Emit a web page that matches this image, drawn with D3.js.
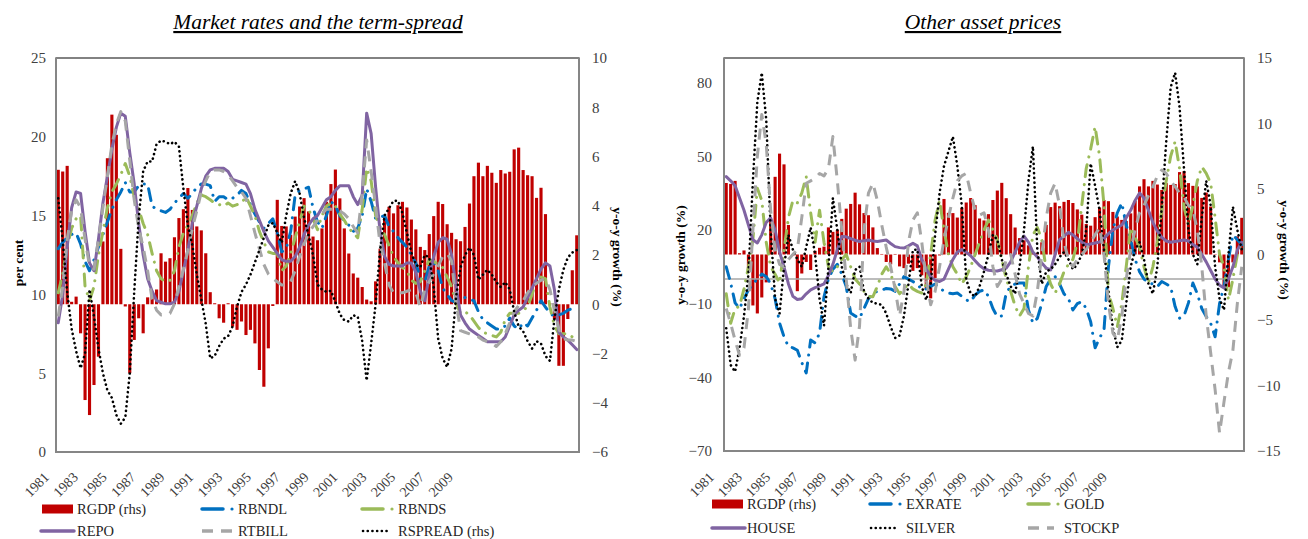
<!DOCTYPE html>
<html><head><meta charset="utf-8">
<script src="https://cdn.jsdelivr.net/npm/d3@7"></script>
<style>
body{margin:0;background:#fff}
svg{display:block}
text{font-family:"Liberation Serif","Times New Roman",serif}
</style>
</head><body>
<svg id="chart" width="1308" height="539"></svg>
<script>
// ---------------- DATA ----------------
const tickYears = ["1981","1983","1985","1987","1989","1991","1993","1995","1997","1999","2001","2003","2005","2007","2009"];

// real GDP y-o-y growth (%) - rhs, quarterly from 1981Q1
const rgdp = [5.46,5.39,5.62,0.1,0.31,-1.18,-3.89,-4.5,-3.28,-2.13,
2.55,5.93,7.7,6.88,2.25,-0.09,-2.8,-1.45,-0.57,-1.18,
0.28,0.51,0.6,2.07,1.73,1.87,2.72,3.5,3.86,4.72,
3.83,3.16,3.0,2.07,0.49,0.04,-0.57,-0.75,0.04,-0.91,
-1.04,-0.7,-1.25,-1.04,-1.59,-2.67,-3.35,-1.79,-0.07,4.24,
3.18,3.16,2.82,3.56,3.97,4.31,3.77,2.75,2.6,3.08,
4.16,4.88,5.47,4.3,3.08,2.06,1.25,1.08,0.7,0.19,
0.12,0.93,2.26,3.62,3.96,3.69,4.02,4.16,3.93,3.44,
3.04,2.33,2.2,2.85,3.58,4.16,4.07,3.25,2.9,2.64,
2.56,3.14,4.09,5.2,5.75,5.2,5.62,5.34,4.93,5.45,
5.31,5.38,6.29,6.36,5.45,5.24,5.2,4.32,4.73,3.66,
0.03,-0.6,-2.5,-2.5,-0.6,1.38,2.8];

// Panel 1: market rates (per cent)
const repo = [8.2,10,13,15.5,16.5,16.4,14,12,11.5,13.5,
15.8,17.5,19.2,20.6,21.5,21.3,19,17,14.5,12.5,
11,10.2,9.6,9.5,9.4,9.4,9.5,10.2,11.5,12.8,
14.5,15.6,16.7,17.5,17.9,18,18,18,17.8,17.3,
17.2,17.1,17,16.4,15.4,14.7,14,13.4,13,12.6,
12.2,12.1,12.1,12.4,13,13.8,14.4,14.8,15,15.5,
16,16.2,16.6,16.9,16.9,16.9,16.2,15.7,16.3,21.5,
20.2,16.8,14,12.4,11.9,11.8,11.8,11.8,12,12,
11.4,10.2,9.6,11.2,12.4,13.3,13.6,13.5,12.5,10.5,
8.7,8.2,7.8,7.6,7.4,7.2,7,7,7,7,
7.3,8,8.7,9,9.2,9.8,10.4,11,11.6,12,
11.8,10.3,7.6,7.3,7.1,6.8,6.5];
const rtbill = [8.6,10.5,13.5,15.3,16,15.5,13.5,11.8,11.6,13.5,
15.5,17.5,19.5,20.8,21.6,21,18.5,16,14.2,13,
11.5,9.7,9,8.7,8.7,8.8,9.4,10.5,11.6,12.8,
14.2,15.3,16.5,17.2,17.8,17.9,17.9,17.8,17.6,17.2,
16.8,16.5,16.1,15,13.9,12.9,11.9,11.3,11,10.8,
10.6,10.6,10.8,11.5,12.4,13.2,13.9,14.3,14.7,15.1,
15.4,15.4,15.4,15.3,15.1,14.8,14.3,13.9,16.4,19.8,
17.8,15.6,13.2,12,10.6,10.1,10.1,10.1,10.2,10.3,
10.1,9.2,10.3,10.8,11.3,11.8,12.4,12.6,12.1,9.5,
7.7,7.6,7.5,7.4,7.3,7.1,7,6.9,6.7,7,
7.5,8.2,8.9,9.3,9.6,10.1,10.5,10.7,10.9,11,
10.3,9,7.8,7.2,7.1,7.1,7];
const rbndl = [12.9,13.3,13.6,13.8,13.9,13.2,12.1,11.5,12.2,13,
13.8,14.6,15.4,16,16.5,17.1,16.5,16.5,16.9,17,
17,15.6,15.4,15.3,15.2,15.4,15.8,16.1,16.4,16.1,
16.4,16.8,17,17,16.9,15.9,16.2,16.2,16,16.1,
16.3,16.6,16.4,15.7,15.1,14.6,14.2,14.5,14.8,13.9,
12.7,12.9,14,16.3,16.6,16.7,16.8,15.5,14.6,14.2,
15,15.9,15.6,15,14.7,14.4,14,14.2,15,16.7,
15.9,14.8,14.9,15,14.3,14,13.6,13.3,13,12.5,
12,11,10.8,11.8,12,11.5,10.4,10,9.6,9.5,
9.6,9.8,9.7,9.6,8.9,8.4,8.2,8,7.8,7.8,
8,8.5,8,7.8,8.2,8,8.5,9,9.6,9.2,
8.8,8.6,8.7,8.8,9,9.1,9.1];
const rbnds = [10.1,11.3,13,14.2,14.8,15,10.5,9.6,10.5,12.5,
14,15.5,16.5,17,17.6,18.3,17.5,16.2,15.4,14.5,
13.8,12.6,11.5,11,10.8,10.9,11.5,13,13.9,14.4,
15,15.8,16.3,16.2,16,15.8,15.7,15.6,15.8,15.6,
15.7,15.8,16.2,15.6,15,14,13.3,12.7,12.6,12.6,
11.5,11.8,12.6,13.6,14.6,15.6,15.4,14.8,14.1,15,
15.6,15.8,15.6,15.1,14.7,14.2,13.9,13.6,15.4,18,
17.2,15,14.3,13.8,13.1,12.4,12,11.7,11.5,10.9,
10.7,10.8,11.5,12.2,12.1,11.9,11.7,11.1,10.5,9.4,
8.8,8.9,8.7,8.3,7.9,7.6,7.5,7.4,7.3,7.6,
8.4,8.8,8.8,8.8,9,9.2,10,10.9,11.1,11,
9.2,8,7.5,7.5,7.5,7.3,7.1];
// term spread - rhs
const rspread = [4.3,2.6,0.5,-1,-1.9,-2.6,-2,0.6,-0.5,-1.8,
-2.8,-3.5,-3.8,-4.5,-4.85,-4.6,-2.8,0.5,3.5,5.4,
5.8,5.8,6.5,6.65,6.6,6.5,6.6,6.4,4.7,3.2,
2.4,1.2,0.2,-0.8,-2.2,-2.1,-1.7,-1.4,-1.3,-0.9,
-0.1,0.5,0.8,1.2,1.7,2.2,2.7,3.2,3.3,2.9,
2.5,3.6,4.5,5,4.5,3.5,2.8,2,0.8,0.6,
0.5,0.55,0.1,-0.4,-0.65,-0.7,-0.45,-0.5,-1.5,-3.1,
-1.6,0,2.2,3.6,3.9,4.2,4.2,3.7,2.9,2.1,
1.6,1.5,2,1.9,0.7,-1.4,-2.2,-2.55,-1.8,0.3,
1.5,2,2.3,2,1,1.2,1.4,1.2,0.9,0.7,
0.9,0.6,-0.3,-0.9,-1.1,-1.5,-1.8,-1.5,-1.6,-2.1,
-2.3,-0.6,0.6,1.4,1.9,2.1,2.2];

// Panel 2: other asset prices (y-o-y growth, %)
const exrate = [5,-1.6,-9.7,-12,-8,-4.4,-2,0,2,1,
-2,-8,-17.9,-23.5,-27.5,-28,-29,-34,-38.2,-24.8,
-26,-22,-7.2,0,4,6,2,-3,-13.8,-15,
-15.9,-12,-8,-5.7,-5,-4.5,-3.8,-4,-5,-2,
1,0,-1,-2,-4.4,-4,-3,-2,-3.5,-5,
-5.7,-6,-5.7,-7,-8.5,-9.2,-6.5,-5,-4.4,-7,
-12,-15.3,-15,-5.7,-3,-2,-1.6,-1.6,-12.6,-17.9,
-16,-10,-3,0,1,-2,-6,-8,-12.6,-10,
-9.2,-12,-17.4,-28,-24,-20.7,5,20,27,31,
22,16,8,3,0,-1.6,-2,-3.1,-1,-2,
-3.1,-11.2,-15.9,-15,-9.7,-1.6,-6,-12,-15.3,-18,
-23.5,-10,-3,8,18,16,14];
const gold = [-6,-18,-12,-11,-4,5,16,37,32,15,
5,2,-1.6,12,25,32,31,35,41.7,27,
15,28,15,5,3,5,8,10,5,0,
-2,-5,-7,-7.2,-3,2,5,2,-3,-6,
-4,-2,-4,-5,-5.7,-2,10,24,32,20,
10,5,2,-2,1,5,10,15,20,24,
20,16,8,0,-5,-11,-15,-12,5,18,
21,16,3.7,-2,-5.7,-2,3,6,8,15,
30,45,53,62,50,30,-5.7,-12,-19.4,-10,
5,21,17,13,5,-1.6,5,15,28,40,
50,56,45,29.5,22,30,40,45.7,43,39,
25,10,5,-8.5,0,10,15];
const house = [41.7,40,38,33,28,22,16,14.7,18,23,
24.9,20,11,5,-2,-7,-8.3,-8,-6,-4.4,
-3.5,-2.8,-2,1.5,6,12,17.3,17.2,16.5,15.8,
15.3,15.6,15.9,15.5,15.3,15.6,15.9,14.5,13.2,12.8,
12.6,13.5,14.6,13.5,8,4,1,-0.5,-1,0,
4,8,11,12,11,9.5,7.5,5.5,4.2,3.6,
3.4,3.3,3.8,4.5,7,11,15,17.5,15,11,
9,6.5,4.5,3.7,10,16,17.5,19,18,16.5,
15,14,14.3,14.7,15.1,16.5,18.5,20,21,22,
25,28,32,35,33,28,23,19.5,17,15.5,
15,15.3,15.6,15.9,15.5,14,13,10,7,3.5,
0,-2.5,-3.6,0,5,11.8,15];
const silver = [-20,-35,-37.7,-28,-15,2,40,72,84,65,
20,-8,-14,5,18,12,8,5,13,21,
10,-8,-19,5,33,20,5,-2,-5.7,3.7,
5,-5,-8,-9.7,-10,-10.5,-14,-19.4,-24,-23,
-15,-2,11.8,12,-3,-8.5,-2,18,35,46,
52,58,46,30,0,-6,-7,-3,3,10,
18,16,8,2,-3,-6,5,20,40,54,
12,-2,3,4,6,9,11,8,4,6,
10,20,47,38,28,12,-5,-20,-27.7,-25,
-10,5,12,15,8,-2,-6,5,29.5,56,
78,84,70,45,20,10,6,25,40,30,
5,-8,-12.6,10,29.5,20,12];
const stockp = [-12,-18,-25,-31,-28,-12,20,50,67,55,
28,12,6,5,8,10,12,25,39,40,
41,43,42,45,58,40,20,0,-20,-33,
-19,20,35,39,32,22,13,5,-4,-15,
-5,15,24,27,15,0,-10.5,-5,5,16,
25,33,40,42,43,35,28,26,27,20,
5,-3,0,8,10,2,-6,-10,-14,-15,
-5,10,25,35,39,30,15,8,5,8,
10,12,15,18,21,10,-10,-22,-24.8,-15,
0,12,20,27,30,34,37.6,42,44.4,43,
40,37.6,35,33.5,30,28,20,5,-15,-30,
-45,-62.7,-50,-38,-29,-10,5];

const quarters = rgdp.map((d, i) => (1981 + Math.floor(i / 4)) + "Q" + (i % 4 + 1));

// ---------------- DRAW ----------------
const svg = d3.select("#chart");
const C = {red:"#C00000", blue:"#0070C0", green:"#9BBB59", purple:"#8064A2", gray:"#A6A6A6", black:"#000000"};
const styles = {
  dashdot: {dash:"12,8,0.1,8", cap:"round", w:3},
  dash: {dash:"11,8", cap:"butt", w:3},
  dot: {dash:"0.1,4.6", cap:"round", w:2.6},
  solid: {dash:null, cap:"round", w:3}
};

function drawPanel(cfg) {
  const {x0, x1, y0, y1} = cfg;
  const g = svg.append("g");
  const x = d3.scaleBand(quarters, [x0, x1]).paddingInner(0.3).paddingOuter(0.15);
  const yL = d3.scaleLinear(cfg.leftDomain, [y1, y0]);
  const yR = d3.scaleLinear(cfg.rightDomain, [y1, y0]);
  const cx = q => x(q) + x.bandwidth() / 2;

  g.append("rect").attr("x", x0).attr("y", y0).attr("width", x1 - x0).attr("height", y1 - y0)
    .attr("fill", "none").attr("stroke", "#404040").attr("stroke-width", 1.3);

  g.append("g").selectAll("rect").data(rgdp).join("rect")
    .attr("x", (d, i) => x(quarters[i]))
    .attr("width", x.bandwidth())
    .attr("y", d => Math.min(yR(d), yR(0)))
    .attr("height", d => Math.abs(yR(d) - yR(0)))
    .attr("fill", C.red);

  if (cfg.zeroLine) {
    g.append("line").attr("x1", x0).attr("x2", x1).attr("y1", yL(0)).attr("y2", yL(0))
      .attr("stroke", "#A6A6A6").attr("stroke-width", 1.5);
  }

  cfg.series.forEach(s => {
    const st = styles[s.style];
    const scale = s.rhs ? yR : yL;
    const line = d3.line().x((d, i) => cx(quarters[i])).y(d => scale(d));
    g.append("path").datum(s.values).attr("d", line)
      .attr("fill", "none").attr("stroke", s.color).attr("stroke-width", st.w)
      .attr("stroke-linecap", st.cap).attr("stroke-linejoin", "round")
      .attr("stroke-dasharray", st.dash);
  });

  g.append("path").attr("d", `M${x0},${y0}V${y1}H${x1}V${y0}`).attr("fill", "none")
    .attr("stroke", "#868686").attr("stroke-width", 2);

  const aL = g.append("g").attr("transform", `translate(${x0},0)`)
    .call(d3.axisLeft(yL).tickValues(cfg.leftTicks).tickSize(0).tickPadding(cfg.padL));
  const aR = g.append("g").attr("transform", `translate(${x1},0)`)
    .call(d3.axisRight(yR).tickValues(cfg.rightTicks).tickSize(0).tickPadding(cfg.padR));
  [aL, aR].forEach(a => {
    a.select(".domain").remove();
    a.selectAll("text").attr("font-size", 15).attr("fill", "#404040")
      .attr("font-family", '"Liberation Serif", serif');
  });

  const xl = d3.scalePoint(tickYears, cfg.labelRange);
  g.append("g").selectAll("text").data(tickYears).join("text")
    .attr("transform", d => `translate(${xl(d)},${cfg.labelY}) rotate(-45)`)
    .attr("text-anchor", "end").attr("font-size", 14).attr("fill", "#404040")
    .text(d => d);

  g.append("text").attr("x", cfg.titleX).attr("y", 29).attr("text-anchor", "middle")
    .attr("font-size", 21.5).attr("font-style", "italic").attr("text-decoration", "underline")
    .attr("fill", "#000").text(cfg.title);

  g.append("text").attr("transform", `translate(${cfg.leftTitle[0]},${cfg.leftTitle[1]}) rotate(-90)`)
    .attr("text-anchor", "middle").attr("font-size", 13.5).attr("font-weight", "bold").text(cfg.leftLabel);
  g.append("text").attr("transform", `translate(${cfg.rightTitle[0]},${cfg.rightTitle[1]}) rotate(90)`)
    .attr("text-anchor", "middle").attr("font-size", 13.5).attr("font-weight", "bold").text("y-o-y growth (%)");

  const lg = g.append("g");
  cfg.legend.forEach(it => {
    const st = styles[it.style];
    if (it.style === "bar") {
      lg.append("rect").attr("x", it.x).attr("y", it.y - 4.5).attr("width", 31).attr("height", 9).attr("fill", C.red);
    } else if (it.style === "dashdot") {
      lg.append("line").attr("x1", it.x).attr("x2", it.x + 21).attr("y1", it.y).attr("y2", it.y)
        .attr("stroke", it.color).attr("stroke-width", 3.5).attr("stroke-linecap", "round");
      lg.append("circle").attr("cx", it.x + 30).attr("cy", it.y).attr("r", 1.6).attr("fill", it.color);
    } else {
      lg.append("line").attr("x1", it.x).attr("x2", it.x + it.len).attr("y1", it.y).attr("y2", it.y)
        .attr("stroke", it.color).attr("stroke-width", it.style === "dot" ? 2.6 : 3.5)
        .attr("stroke-linecap", st.cap).attr("stroke-dasharray", st.dash);
    }
    lg.append("text").attr("x", it.tx).attr("y", it.y + 5).attr("font-size", 14.5).attr("fill", "#262626").text(it.label);
  });
}

drawPanel({
  x0: 56, x1: 579, y0: 58, y1: 452,
  leftDomain: [0, 25], rightDomain: [-6, 10],
  leftTicks: [0, 5, 10, 15, 20, 25], rightTicks: [-6, -4, -2, 0, 2, 4, 6, 8, 10],
  padL: 10, padR: 13,
  labelRange: [50, 454], labelY: 478,
  title: "Market rates and the term-spread", titleX: 318,
  leftLabel: "per cent", leftTitle: [23, 263], rightTitle: [613, 257],
  zeroLine: false,
  series: [
    {values: rbndl, color: C.blue, style: "dashdot"},
    {values: rbnds, color: C.green, style: "dashdot"},
    {values: repo, color: C.purple, style: "solid"},
    {values: rtbill, color: C.gray, style: "dash"},
    {values: rspread, color: C.black, style: "dot", rhs: true}
  ],
  legend: [
    {label: "RGDP (rhs)", style: "bar", x: 42, y: 509, tx: 77},
    {label: "RBNDL", style: "dashdot", color: C.blue, x: 202, y: 509, tx: 238},
    {label: "RBNDS", style: "dashdot", color: C.green, x: 362, y: 509, tx: 398},
    {label: "REPO", style: "solid", color: C.purple, x: 41, y: 531, len: 33, tx: 77},
    {label: "RTBILL", style: "dash", color: C.gray, x: 202, y: 531, len: 31, tx: 238},
    {label: "RSPREAD (rhs)", style: "dot", color: C.black, x: 363, y: 531, len: 28, tx: 398}
  ]
});

drawPanel({
  x0: 724, x1: 1244, y0: 58, y1: 451,
  leftDomain: [-70, 90], rightDomain: [-15, 15],
  leftTicks: [-70, -40, -10, 20, 50, 80], rightTicks: [-15, -10, -5, 0, 5, 10, 15],
  padL: 12, padR: 13,
  labelRange: [715, 1108], labelY: 478,
  title: "Other asset prices", titleX: 983,
  leftLabel: "y-o-y growth (%)", leftTitle: [685, 255], rightTitle: [1280, 250],
  zeroLine: true,
  series: [
    {values: exrate, color: C.blue, style: "dashdot"},
    {values: gold, color: C.green, style: "dashdot"},
    {values: house, color: C.purple, style: "solid"},
    {values: silver, color: C.black, style: "dot"},
    {values: stockp, color: C.gray, style: "dash"}
  ],
  legend: [
    {label: "RGDP (rhs)", style: "bar", x: 712, y: 504, tx: 747},
    {label: "EXRATE", style: "dashdot", color: C.blue, x: 870, y: 504, tx: 906},
    {label: "GOLD", style: "dashdot", color: C.green, x: 1028, y: 504, tx: 1064},
    {label: "HOUSE", style: "solid", color: C.purple, x: 712, y: 528, len: 33, tx: 747},
    {label: "SILVER", style: "dot", color: C.black, x: 871, y: 528, len: 28, tx: 906},
    {label: "STOCKP", style: "dash", color: C.gray, x: 1028, y: 528, len: 26, tx: 1064}
  ]
});
</script>
</body></html>
